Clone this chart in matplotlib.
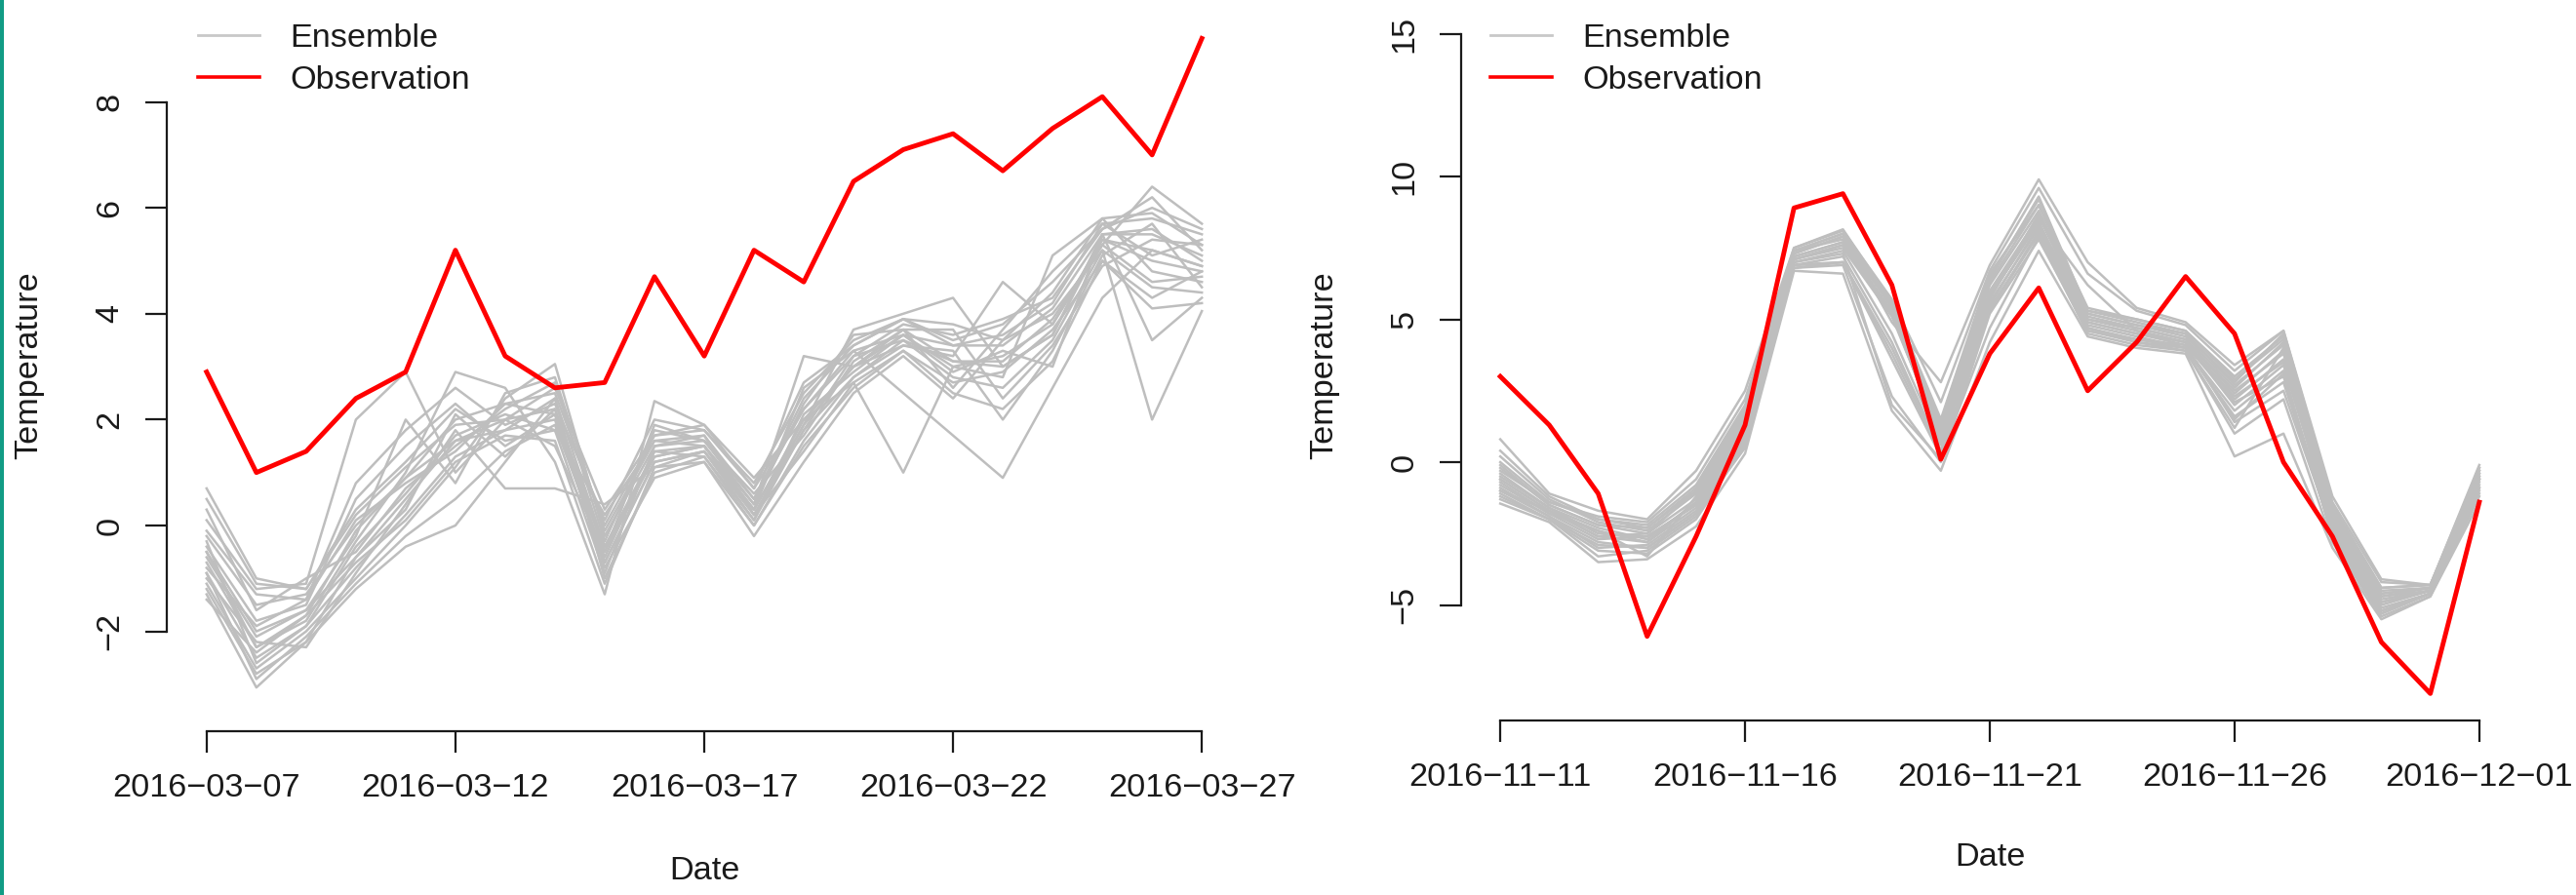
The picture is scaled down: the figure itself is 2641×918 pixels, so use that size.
import matplotlib
matplotlib.use("Agg")
import matplotlib.pyplot as plt
import matplotlib.dates as mdates
import pandas as pd

plt.rcParams['font.family'] = ['Liberation Sans', 'DejaVu Sans']

W, H = 2641, 918
FS = 24.7

# --- March 2016 panel ---
march_dates = pd.date_range('2016-03-07', periods=21, freq='D')
march_obs = [2.9, 1.0, 1.4, 2.4, 2.9, 5.2, 3.2, 2.6, 2.7, 4.7, 3.2,
             5.2, 4.6, 6.5, 7.1, 7.4, 6.7, 7.5, 8.1, 7.0, 9.2]
march_ens = [
    [-0.5, -2.0, -1.6, -0.6, 0.5, 1.6, 2.0, 2.2, -0.4, 1.4, 1.5, 0.3, 2.0, 3.0, 3.6, 3.0, 3.2, 3.8, 5.4, 5.0, 4.8],
    [-0.9, -2.5, -1.9, -0.8, 0.2, 1.3, 1.8, 2.0, -0.7, 1.2, 1.4, 0.1, 1.8, 2.8, 3.5, 2.8, 2.6, 3.5, 5.2, 4.5, 4.4],
    [0.7, -1.0, -1.2, 0.3, 1.2, 2.2, 1.6, 1.8, 0.2, 1.6, 1.7, 0.5, 2.4, 3.4, 3.9, 3.4, 3.6, 4.2, 5.7, 5.8, 5.5],
    [-1.3, -3.06, -2.2, -1.2, -0.4, 0.0, 1.2, 2.4, -1.0, 1.0, 1.3, 0.0, 1.5, 2.6, 3.3, 2.5, 2.2, 3.1, 5.0, 4.1, 4.2],
    [-0.2, -1.5, -1.3, 0.0, 0.9, 2.0, 2.3, 2.5, 0.0, 1.7, 1.8, 0.7, 2.2, 3.2, 3.8, 3.6, 3.9, 4.3, 5.6, 6.2, 5.2],
    [0.1, -1.2, -1.1, 2.0, 2.9, 1.0, 2.0, 1.5, -0.5, 1.3, 1.5, 0.2, 1.9, 3.7, 4.0, 4.3, 3.0, 3.6, 5.5, 5.6, 5.0],
    [-1.1, -2.7, -2.0, -1.0, 0.0, 1.1, 2.4, 3.05, -0.2, 1.5, 1.6, 0.4, 3.2, 3.0, 3.4, 3.2, 4.6, 3.8, 5.3, 6.4, 5.7],
    [-0.7, -2.3, -1.8, -0.3, 1.0, 2.9, 2.6, 1.2, -1.3, 2.35, 1.9, 0.9, 2.0, 2.7, 1.0, 3.0, 2.8, 5.1, 5.8, 4.8, 4.6],
    [-0.4, -1.8, -1.5, 0.5, 1.5, 2.3, 1.5, 2.1, -0.8, 0.9, 1.2, -0.2, 1.2, 2.5, 3.2, 2.4, 3.5, 4.0, 5.2, 2.0, 4.05],
    [-1.0, -2.2, -2.3, -0.9, 0.4, 1.8, 0.7, 0.7, 0.4, 1.1, 1.4, 0.3, 2.6, 3.3, 2.5, 1.7, 0.9, 2.6, 4.3, 5.2, 4.9],
    [0.3, -1.6, -1.0, -0.5, 0.7, 1.5, 2.2, 2.7, -0.3, 1.8, 1.6, 0.6, 1.7, 3.1, 3.7, 3.7, 2.4, 3.4, 4.9, 5.4, 5.3],
    [-0.9, -2.9, -2.1, -1.1, -0.2, 0.5, 1.4, 1.9, -0.6, 1.4, 1.3, 0.1, 2.1, 2.9, 3.6, 2.9, 3.3, 3.0, 5.5, 3.5, 4.3],
    [-0.1, -1.3, -1.4, 0.8, 1.8, 2.6, 1.9, 2.3, 0.1, 2.0, 1.8, 0.8, 2.5, 3.5, 3.9, 3.5, 3.8, 4.6, 5.6, 6.0, 5.6],
    [-1.4, -2.4, -1.7, -0.7, 0.1, 1.2, 1.7, 1.6, -1.1, 1.1, 1.2, 0.0, 1.6, 2.8, 3.4, 3.3, 2.0, 3.3, 5.1, 5.7, 4.5],
    [-0.6, -2.1, -1.6, -0.2, 2.0, 0.8, 2.5, 2.8, -0.1, 1.6, 1.5, 0.4, 2.3, 3.6, 3.7, 2.6, 3.7, 4.8, 5.7, 5.1, 5.4],
    [-0.3, -2.6, -1.9, -0.4, 0.6, 1.7, 2.1, 1.8, -0.9, 1.5, 1.7, 0.2, 1.8, 3.2, 3.5, 3.1, 3.1, 3.9, 5.3, 4.6, 4.7],
    [-0.8, -1.9, -1.4, 0.1, 0.8, 1.4, 2.3, 2.1, -0.5, 1.9, 1.6, 0.5, 2.2, 3.3, 3.6, 3.4, 3.4, 4.1, 5.5, 5.5, 5.1],
    [-1.2, -2.8, -2.2, -0.6, 0.3, 2.1, 1.3, 2.2, -0.7, 1.2, 1.4, 0.2, 1.4, 2.7, 3.3, 2.7, 2.9, 3.7, 5.0, 4.3, 4.8],
    [0.5, -1.1, -1.2, 0.2, 1.1, 1.9, 2.0, 2.6, 0.3, 1.7, 1.9, 0.7, 2.7, 3.4, 3.9, 3.8, 3.5, 4.4, 5.8, 5.9, 5.3],
    [-0.5, -2.3, -1.7, -0.1, 0.9, 1.6, 1.8, 2.4, -0.4, 1.3, 1.5, 0.3, 1.9, 3.0, 3.7, 3.1, 3.0, 3.6, 5.4, 5.2, 4.9],
]
march_yticks = [-2, 0, 2, 4, 6, 8]

# --- November 2016 panel ---
nov_dates = pd.date_range('2016-11-11', periods=21, freq='D')
nov_obs = [3.0, 1.3, -1.1, -6.1, -2.6, 1.3, 8.9, 9.4, 6.2, 0.1, 3.8,
           6.1, 2.5, 4.2, 6.5, 4.5, 0.0, -2.6, -6.3, -8.1, -1.4]
nov_ens = [
    [-0.5, -1.6, -2.5, -2.6, -1.5, 1.2, 7.1, 7.6, 5.2, 0.8, 5.8, 8.4, 5.0, 4.6, 4.2, 2.2, 3.6, -2.2, -4.9, -4.5, -0.6],
    [-1.0, -1.9, -2.8, -3.0, -1.8, 0.8, 6.9, 7.2, 4.2, 0.4, 5.4, 8.0, 4.8, 4.4, 4.0, 1.8, 3.2, -2.6, -5.3, -4.6, -0.9],
    [0.8, -1.1, -1.7, -2.0, -0.3, 2.5, 7.5, 8.15, 5.6, 1.5, 6.6, 9.0, 5.4, 5.0, 4.6, 3.0, 4.4, -1.5, -4.4, -4.3, -0.2],
    [-0.2, -1.5, -2.2, -2.3, -1.0, 1.8, 7.3, 7.9, 5.4, 1.2, 6.2, 8.8, 5.2, 4.8, 4.4, 2.6, 4.2, -1.9, -4.6, -4.4, -0.3],
    [-1.45, -2.1, -3.5, -3.4, -2.25, 0.3, 6.7, 6.6, 1.8, -0.3, 4.2, 7.4, 4.4, 4.0, 3.8, 0.2, 1.0, -3.0, -5.5, -4.7, -1.4],
    [-0.8, -1.8, -2.4, -2.8, -1.6, 1.0, 7.0, 7.4, 4.5, 0.6, 5.6, 8.2, 4.7, 4.3, 4.1, 1.4, 2.5, -2.4, -5.1, -4.6, -0.8],
    [-0.3, -1.4, -2.0, -2.2, -0.8, 2.0, 7.4, 8.0, 4.9, 2.8, 6.9, 9.9, 7.0, 5.4, 4.9, 3.4, 4.6, -1.2, -4.1, -4.3, -0.1],
    [-1.2, -2.0, -3.1, -3.2, -2.0, 0.6, 6.8, 6.9, 2.3, 0.0, 5.2, 7.8, 4.6, 4.2, 3.9, 1.0, 2.2, -2.8, -5.4, -4.7, -1.2],
    [-0.6, -1.7, -2.6, -2.5, -1.3, 1.4, 7.2, 7.7, 5.5, 1.0, 6.0, 8.6, 5.1, 4.7, 4.3, 2.4, 3.9, -2.0, -4.7, -4.5, -0.5],
    [0.2, -1.3, -2.1, -2.4, -1.1, 1.6, 7.4, 7.8, 5.6, 1.3, 6.4, 9.3, 5.3, 4.9, 4.5, 2.8, 4.5, -1.7, -4.5, -4.4, -0.4],
    [-0.9, -1.9, -3.0, -2.9, -1.7, 0.9, 6.9, 7.0, 3.8, 0.3, 5.3, 8.1, 4.7, 4.2, 4.0, 1.6, 2.8, -2.5, -5.2, -4.6, -1.0],
    [-0.4, -1.6, -2.3, -2.7, -1.4, 1.3, 7.1, 7.5, 5.1, 0.9, 5.9, 8.5, 6.2, 4.6, 4.2, 2.0, 3.4, -2.1, -4.8, -4.5, -0.6],
    [-1.3, -2.0, -3.3, -3.1, -1.9, 0.7, 6.8, 7.0, 3.6, 0.2, 4.7, 7.9, 4.5, 4.1, 3.9, 1.2, 4.0, -2.7, -5.3, -4.6, -1.1],
    [0.0, -1.4, -1.9, -2.1, -0.6, 2.2, 7.5, 8.1, 5.7, 2.1, 6.7, 9.6, 6.6, 5.3, 4.8, 3.2, 4.6, -1.4, -4.2, -4.3, -0.2],
    [-0.7, -1.8, -2.7, -2.6, -1.5, 1.1, 7.0, 7.3, 2.0, 0.1, 5.5, 8.3, 4.9, 4.5, 4.1, 2.1, 3.0, -2.3, -5.0, -4.5, -0.7],
    [-1.0, -1.7, -2.4, -3.3, -1.2, 1.5, 7.2, 7.7, 5.3, 0.7, 5.7, 8.7, 5.0, 4.7, 4.3, 2.5, 3.8, -1.9, -4.7, -4.4, -0.5],
    [-0.1, -1.5, -2.2, -2.5, -1.0, 1.7, 7.3, 7.9, 5.5, 1.1, 6.3, 9.0, 5.2, 4.8, 4.5, 2.7, 4.1, -1.8, -4.6, -4.4, -0.4],
    [-1.1, -2.0, -2.9, -3.0, -1.8, 0.5, 6.9, 7.0, 4.0, 0.4, 5.3, 8.0, 4.6, 4.3, 4.0, 1.5, 3.1, -2.6, -5.2, -4.6, -0.9],
    [0.4, -1.2, -2.0, -2.3, -0.9, 1.9, 7.4, 8.0, 5.6, 1.4, 6.5, 9.2, 5.3, 5.0, 4.6, 2.9, 4.3, -1.6, -4.4, -4.3, -0.3],
    [-0.6, -1.7, -2.6, -2.8, -1.4, 1.2, 7.1, 7.6, 5.2, 0.8, 5.8, 8.4, 4.9, 4.5, 4.2, 2.3, 3.5, -2.2, -4.9, -4.5, -0.6],
]
nov_yticks = [-5, 0, 5, 10, 15]

ENS_COLOR = '#bebebe'
OBS_COLOR = '#ff0000'
INK = '#1a1a1a'


def px_box(x0, y0, x1, y1):
    # figure-pixel box (top-left origin) -> fig fraction rect
    return [x0 / W, 1 - y1 / H, (x1 - x0) / W, (y1 - y0) / H]


def minus(s):
    return s.replace('-', '\u2212')


def panel(ax, dates, obs, ens, yticks, ylim, legend_xy):
    for i, member in enumerate(ens):
        ax.plot(dates, member, color=ENS_COLOR, lw=1.8,
                label='Ensemble' if i == 0 else None, zorder=2)
    ax.plot(dates, obs, color=OBS_COLOR, lw=3.5, label='Observation', zorder=3)

    pad = pd.Timedelta(hours=0.8 * 24)
    ax.set_xlim(mdates.date2num(dates[0] - pad), mdates.date2num(dates[-1] + pad))
    ax.set_ylim(*ylim)

    for side in ('top', 'right'):
        ax.spines[side].set_visible(False)
    for side in ('left', 'bottom'):
        ax.spines[side].set_color(INK)
        ax.spines[side].set_linewidth(1.6)
    ax.spines['left'].set_bounds(yticks[0], yticks[-1])
    ax.spines['bottom'].set_bounds(mdates.date2num(dates[0]), mdates.date2num(dates[-1]))

    xt = dates[::5]
    ax.set_xticks(mdates.date2num(xt))
    ax.set_xticklabels([minus(d.strftime('%Y-%m-%d')) for d in xt])
    ax.set_yticks(yticks)
    ax.set_yticklabels([minus(str(v)) for v in yticks], rotation=90, va='center')
    ax.tick_params(direction='out', length=15.8, width=1.6, color=INK,
                   labelsize=FS, labelcolor=INK, pad=15)

    leg = ax.legend(loc='upper left', bbox_to_anchor=(legend_xy[0] / W, 1 - legend_xy[1] / H),
                    bbox_transform=fig.transFigure, frameon=False, fontsize=FS,
                    handlelength=1.84, handletextpad=0.9, labelspacing=0.34,
                    borderpad=0, borderaxespad=0)
    for t in leg.get_texts():
        t.set_color(INK)
    leg.legend_handles[0].set_color('#c8c8c8')
    leg.legend_handles[0].set_linewidth(2.0)
    leg.legend_handles[1].set_linewidth(2.6)


fig = plt.figure(figsize=(W / 100, H / 100), dpi=100)

ax1 = fig.add_axes(px_box(171, 0, 1273, 750))
panel(ax1, march_dates, march_obs, march_ens, march_yticks, (-3.886, 9.926), (203, 24))

ax2 = fig.add_axes(px_box(1498, 0, 2582, 739))
panel(ax2, nov_dates, nov_obs, nov_ens, nov_yticks, (-9.044, 16.18), (1528, 24))

# axis titles
fig.text(30 / W, 1 - 375 / H, 'Temperature', rotation=90, ha='center', va='center',
         fontsize=FS, color=INK)
fig.text(1358 / W, 1 - 375 / H, 'Temperature', rotation=90, ha='center', va='center',
         fontsize=FS, color=INK)
fig.text(722 / W, 1 - 893 / H, 'Date', ha='center', va='center', fontsize=FS, color=INK)
fig.text(2040 / W, 1 - 880 / H, 'Date', ha='center', va='center', fontsize=FS, color=INK)

# teal strip down the left edge
fig.add_artist(plt.Rectangle((0, 0), 4 / W, 1, transform=fig.transFigure,
                             color='#119c85', lw=0))

fig.savefig('out.png', dpi=100)
